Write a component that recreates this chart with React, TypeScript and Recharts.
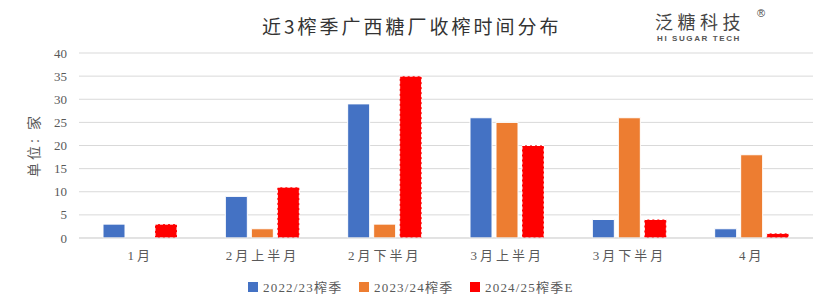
import React from 'react';
import { BarChart, Bar, XAxis, YAxis, CartesianGrid } from 'recharts';

const categories = ['1月', '2月上半月', '2月下半月', '3月上半月', '3月下半月', '4月'];
const season2223 = [3, 9, 29, 26, 4, 2];
const season2324 = [0, 2, 3, 25, 26, 18];
const season2425E = [3, 11, 35, 20, 4, 1];
const seriesNames = ['2022/23榨季', '2023/24榨季', '2024/25榨季E'];
const yTicks = [0, 5, 10, 15, 20, 25, 30, 35, 40];

const colors = ['#4472C4', '#ED7D31', '#FF0000'];

const data = categories.map((c, i) => ({
  name: c,
  a: season2223[i],
  b: season2324[i],
  c: season2425E[i],
}));

const serif = '"Liberation Serif", "Noto Sans CJK SC", serif';

const XTick = (props: any) => {
  const { x, y, payload } = props;
  return (
    <text x={x} y={y + 14} textAnchor="middle" fill="#595959" fontSize={13} fontFamily={serif} letterSpacing={3}>
      {payload.value}
    </text>
  );
};

export default function App() {
  return (
    <div style={{ position: 'absolute', left: 0, top: 0, width: 830, height: 307, background: '#fff', fontFamily: serif }}>
      <div style={{ position: 'absolute', left: 262, top: 14, fontSize: 19, lineHeight: '24px', color: '#333', fontFamily: '"Noto Sans CJK SC", sans-serif', fontWeight: 400, letterSpacing: 3, whiteSpace: 'nowrap' }}>
        近3榨季广西糖厂收榨时间分布
      </div>
      <div style={{ position: 'absolute', left: 655, top: 11, fontSize: 18, lineHeight: '20px', letterSpacing: 4.5, color: '#444', fontFamily: '"Noto Sans CJK SC", sans-serif', whiteSpace: 'nowrap' }}>
        泛糖科技
      </div>
      <div style={{ position: 'absolute', left: 757, top: 8, fontSize: 11, lineHeight: '11px', color: '#444', fontFamily: '"Liberation Sans", sans-serif' }}>®</div>
      <div style={{ position: 'absolute', left: 657, top: 35, fontSize: 8, lineHeight: '8px', letterSpacing: 1.6, fontFamily: '"Liberation Sans", sans-serif', fontWeight: 700, color: '#555', whiteSpace: 'nowrap' }}>HI SUGAR TECH</div>
      <div style={{ position: 'absolute', left: 33, top: 145, transform: 'translate(-50%, -50%) rotate(-90deg)', fontSize: 14, letterSpacing: 3, color: '#595959', whiteSpace: 'nowrap', fontFamily: '"Noto Sans CJK SC", sans-serif' }}>
        单位: 家
      </div>
      <BarChart
        width={830}
        height={307}
        data={data}
        margin={{ top: 53, right: 17, bottom: 40, left: 29 }}
        barGap={4}
        barSize={22}
      >
        <CartesianGrid vertical={false} stroke="#d9d9d9" strokeWidth={1} />
        <XAxis
          dataKey="name"
          tickLine={false}
          axisLine={{ stroke: '#d9d9d9' }}
          tick={<XTick />}
          height={29}
          interval={0}
        />
        <YAxis
          domain={[0, 40]}
          ticks={yTicks}
          tickLine={false}
          axisLine={false}
          width={50}
          tick={{ fill: '#595959', fontSize: 13, fontFamily: serif }}
          tickMargin={6}
          interval={0}
        />
        <Bar dataKey="a" name={seriesNames[0]} fill={colors[0]} stroke="#fff" strokeWidth={1} isAnimationActive={false} />
        <Bar dataKey="b" name={seriesNames[1]} fill={colors[1]} stroke="#fff" strokeWidth={1} isAnimationActive={false} />
        <Bar dataKey="c" name={seriesNames[2]} fill={colors[2]} stroke="#fff" strokeWidth={1} strokeDasharray="3 2" isAnimationActive={false} />
      </BarChart>
      <div style={{ position: 'absolute', left: 248, top: 277, display: 'flex', fontSize: 13, color: '#595959', whiteSpace: 'nowrap' }}>
        {seriesNames.map((n, i) => (
          <div key={n} style={{ display: 'flex', alignItems: 'center', width: i < 2 ? 111 : undefined }}>
            <span style={{ display: 'inline-block', width: 10, height: 10, background: colors[i], marginRight: 5 }} />
            <span style={{ fontFamily: serif, letterSpacing: 1.2 }}>{n}</span>
          </div>
        ))}
      </div>
    </div>
  );
}
